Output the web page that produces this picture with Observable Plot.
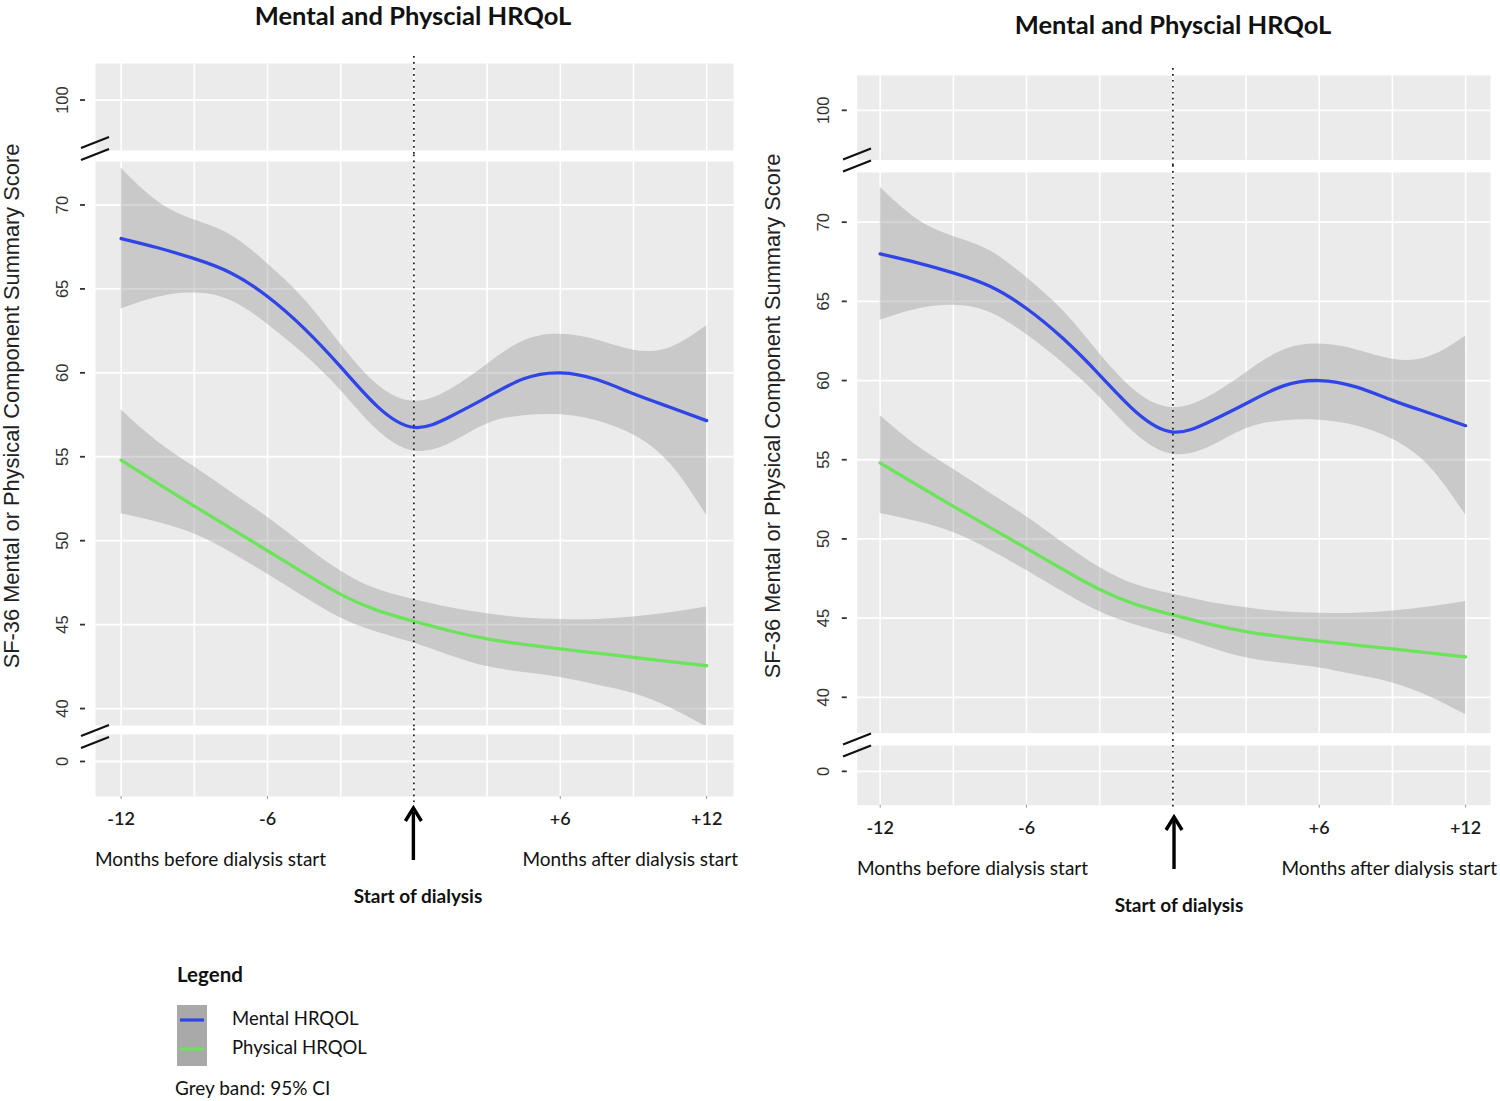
<!DOCTYPE html>
<html><head><meta charset="utf-8">
<script src="https://cdn.jsdelivr.net/npm/d3@7"></script>
<script src="https://cdn.jsdelivr.net/npm/@observablehq/plot@0.6"></script>
<style>
body{margin:0;background:#fff;}
#root{position:relative;width:1500px;height:1101px;overflow:hidden;font-family:Lato, "Open Sans", sans-serif;color:#111;}
.abs{position:absolute;white-space:nowrap;line-height:1.15;}
.plotwrap{position:absolute;}
</style></head><body><div id="root"></div>
<script>
// ---- data ----
const months      = [-12, -10.5, -9, -7.5, -6, -4.5, -3, -1.5, 0, 1.5, 3, 4.5, 6, 7.5, 9, 10.5, 12];
const mentalMean  = [68.0, 67.45, 66.8, 65.95, 64.55, 62.65, 60.35, 58.0, 56.75, 57.4, 58.55, 59.65, 60.0, 59.6, 58.75, 57.95, 57.15];
const mentalHi    = [72.2, 70.2, 69.1, 68.2, 66.5, 64.4, 61.7, 59.3, 58.3, 59.0, 60.5, 61.9, 62.3, 61.95, 61.35, 61.5, 62.8];
const mentalLo    = [63.8, 64.5, 64.75, 64.3, 62.9, 61.1, 58.95, 56.6, 55.35, 55.8, 56.95, 57.45, 57.5, 57.15, 56.3, 54.6, 51.5];
const physMean    = [54.8, 53.42, 52.06, 50.73, 49.4, 48.07, 46.8, 45.85, 45.2, 44.62, 44.15, 43.82, 43.55, 43.3, 43.05, 42.8, 42.55];
const physHi      = [57.8, 55.9, 54.4, 52.9, 51.4, 49.75, 48.2, 47.1, 46.5, 46.0, 45.65, 45.4, 45.3, 45.3, 45.45, 45.7, 46.05];
const physLo      = [51.6, 51.1, 50.4, 49.3, 48.0, 46.65, 45.4, 44.55, 43.9, 43.15, 42.5, 42.15, 41.85, 41.4, 40.9, 40.05, 38.9];
const seriesNames = ["Mental HRQOL", "Physical HRQOL"];
const seriesColors = ["#2f45e6", "#6be35a"];
const xTickValues = [-12, -6, 6, 12];
const xGridValues = [-12, -9, -6, -3, 0, 3, 6, 9, 12];
const yTicksTop = [100];
const yTicksMid = [40, 45, 50, 55, 60, 65, 70];
const yTicksBot = [0];
const titleText = "Mental and Physcial HRQoL";
const yTitleText = "SF-36 Mental or Physical Component Summary Score";
const beforeText = "Months before dialysis start";
const afterText = "Months after dialysis start";
const startText = "Start of dialysis";

const rows = [];
[[mentalMean, mentalLo, mentalHi], [physMean, physLo, physHi]].forEach(([m, lo, hi], si) => {
  months.forEach((mo, i) => rows.push({month: mo, value: m[i], lo: lo[i], hi: hi[i], series: seriesNames[si], color: seriesColors[si]}));
});

// ---- layout of the two panels ----
const panels = [
  {x0: 95, x1: 733, xdom: [-13.05, 13.1],
   segs: [{y0: 63, y1: 150, dom: [96.99, 102.18], ticks: yTicksTop},
          {y0: 161, y1: 725, dom: [38.99, 72.59], ticks: yTicksMid, data: true},
          {y0: 734, y1: 796, dom: [-2.09, 1.61], ticks: yTicksBot}],
   breaks: [-7, 7],
   title: {x: 413, y: 16}, yTitle: {x: 12, y: 406},
   before: {y: 859}, after: {y: 859, right: 738}, start: {x: 418, y: 896}, arrow: {y1: 860}},
  {x0: 857, x1: 1493, xdom: [-12.94, 13.02],
   segs: [{y0: 75, y1: 160, dom: [96.86, 102.2], ticks: yTicksTop},
          {y0: 172, y1: 735, dom: [37.74, 73.14], ticks: yTicksMid, data: true},
          {y0: 745, y1: 805, dom: [-2.14, 1.64], ticks: yTicksBot}],
   breaks: [-6, 5],
   title: {x: 1173, y: 25}, yTitle: {x: 773, y: 416},
   before: {y: 868}, after: {y: 868, right: 1497}, start: {x: 1179, y: 905}, arrow: {y1: 869}}
];

const root = document.getElementById("root");
const ML = 70, MR = 10, MT = 12, MBX = 45;

function addText(txt, css) {
  const d = document.createElement("div");
  d.className = "abs";
  d.textContent = txt;
  Object.assign(d.style, css);
  root.appendChild(d);
  return d;
}

panels.forEach(P => {
  P.segs.forEach((S, si) => {
    const isBottom = si === P.segs.length - 1;
    const prev = P.segs[si - 1], next = P.segs[si + 1];
    const extTop = prev ? (S.y0 - prev.y1) / 2 + 1 : 7;
    const extBot = next ? (next.y0 - S.y1) / 2 + 1 : 6;
    const mB = isBottom ? MBX : MT;
    const marks = [
      Plot.frame({fill: "#ebebeb", stroke: null}),
      Plot.gridX({ticks: xGridValues, stroke: "#ffffff", strokeOpacity: 1, strokeWidth: 1.6}),
      Plot.gridY({ticks: S.ticks, stroke: "#ffffff", strokeOpacity: 1, strokeWidth: 1.8})
    ];
    if (S.data) {
      marks.push(
        Plot.areaY(rows, {x: "month", y1: "lo", y2: "hi", z: "series", fill: "#9a9a9a", fillOpacity: 0.42, curve: "natural", clip: true}),
        Plot.lineY(rows, {x: "month", y: "value", z: "series", stroke: "color", strokeWidth: 3.3, curve: "natural", clip: true})
      );
    }
    marks.push(
      Plot.ruleX([0], {stroke: "#1a1a1a", strokeWidth: 1.7, strokeDasharray: "1.7,4.3", insetTop: -extTop, insetBottom: -extBot}),
      Plot.axisY({ticks: S.ticks, anchor: "left", tickSize: 5, dx: -10, tickPadding: 13, strokeWidth: 1.8,
                  tickRotate: -90, textAnchor: "middle", lineAnchor: "bottom", tickFormat: d => String(d),
                  fontSize: 16.5, fontFamily: "Liberation Sans, Arial, sans-serif", color: "#333", label: null})
    );
    if (isBottom) {
      marks.push(Plot.axisX({ticks: xTickValues, anchor: "bottom", tickSize: 3, tickPadding: 13, stroke: "#999",
        tickFormat: d => d > 0 ? "+" + d : String(d), fontSize: 18, fontWeight: 600,
        fontFamily: "Lato, sans-serif", fill: "#1a1a1a", label: null}));
    }
    const plot = Plot.plot({
      width: P.x1 - P.x0 + ML + MR,
      height: S.y1 - S.y0 + MT + mB,
      marginLeft: ML, marginRight: MR, marginTop: MT, marginBottom: mB,
      x: {domain: P.xdom, axis: null},
      y: {domain: S.dom, axis: null},
      style: {overflow: "visible", background: "transparent"},
      marks
    });
    const wrap = document.createElement("div");
    wrap.className = "plotwrap";
    wrap.style.left = (P.x0 - ML) + "px";
    wrap.style.top = (S.y0 - MT) + "px";
    wrap.appendChild(plot);
    root.appendChild(wrap);
    if (isBottom) {
      const xs = plot.scale("x");
      P.zeroX = P.x0 - ML + xs.apply(0);
    }
  });

  addText(titleText, {fontWeight: 700, fontSize: "25.5px", lineHeight: "1", left: P.title.x + "px", top: P.title.y + "px", transform: "translate(-50%,-50%)"});
  addText(yTitleText, {fontFamily: "Liberation Sans, Arial, sans-serif", fontSize: "21.8px", color: "#222", left: P.yTitle.x + "px", top: P.yTitle.y + "px", transform: "translate(-50%,-50%) rotate(-90deg)"});
  addText(beforeText, {fontSize: "19px", left: P.x0 + "px", top: P.before.y + "px", transform: "translate(0,-50%)"});
  addText(afterText, {fontSize: "19px", left: P.after.right + "px", top: P.after.y + "px", transform: "translate(-100%,-50%)"});
  addText(startText, {fontSize: "19px", fontWeight: 700, left: P.start.x + "px", top: P.start.y + "px", transform: "translate(-50%,-50%)"});
});

// overlay: axis break marks and arrows
const svg = d3.select(root).append("svg")
  .attr("width", 1500).attr("height", 1101)
  .style("position", "absolute").style("left", 0).style("top", 0).style("pointer-events", "none");
panels.forEach(P => {
  [0, 1].forEach(k => {
    const a = P.segs[k], b = P.segs[k + 1];
    const yc = (a.y1 + b.y0) / 2 + P.breaks[k];
    [-6, 6].forEach(off => {
      svg.append("line")
        .attr("x1", P.x0 - 14).attr("y1", yc + off + 5.5)
        .attr("x2", P.x0 + 14).attr("y2", yc + off - 5.5)
        .attr("stroke", "#111").attr("stroke-width", 2.2);
    });
  });
  const last = P.segs[P.segs.length - 1];
  const ax = P.zeroX, top = last.y1 + 12, bot = P.arrow.y1;
  svg.append("line").attr("x1", ax).attr("x2", ax).attr("y1", top + 4).attr("y2", bot)
    .attr("stroke", "#000").attr("stroke-width", 3.4);
  svg.append("path").attr("d", `M${ax - 8},${top + 13} L${ax},${top} L${ax + 8},${top + 13}`)
    .attr("fill", "none").attr("stroke", "#000").attr("stroke-width", 3.4).attr("stroke-linejoin", "miter");
});

// legend
addText("Legend", {fontWeight: 700, fontSize: "20.5px", left: "177px", top: "975px", transform: "translate(0,-50%)"});
svg.append("rect").attr("x", 177).attr("y", 1005).attr("width", 30).attr("height", 61).attr("fill", "#a9a9a9");
seriesNames.forEach((nm, i) => {
  const y = 1020 + i * 29;
  svg.append("line").attr("x1", 180).attr("x2", 204).attr("y1", y).attr("y2", y).attr("stroke", seriesColors[i]).attr("stroke-width", 3.2);
  addText(nm, {fontSize: "18.5px", left: "232px", top: (y - 1) + "px", transform: "translate(0,-50%)"});
});
addText("Grey band: 95% CI", {fontSize: "19px", left: "175px", top: "1088px", transform: "translate(0,-50%)"});
</script></body></html>
